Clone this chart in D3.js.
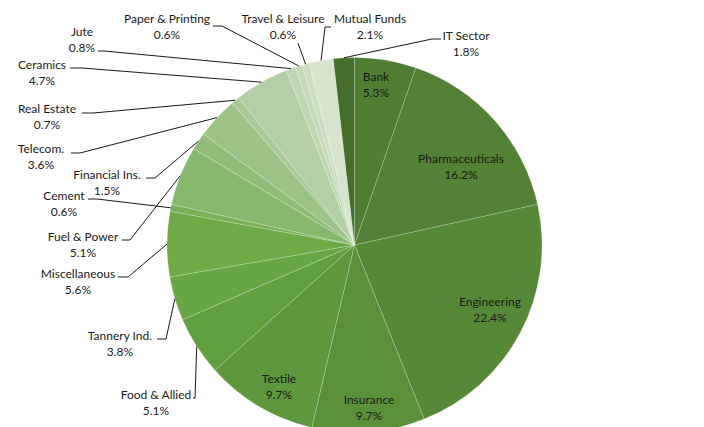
<!DOCTYPE html>
<html><head><meta charset="utf-8">
<script src="https://cdn.jsdelivr.net/npm/d3@7"></script>
<style>
html,body{margin:0;padding:0;background:#fff;}
svg text{font-family:Lato,"Open Sans",sans-serif;font-size:12px;fill:#1a1a1a;}
</style></head>
<body>
<svg id="chart" width="704" height="427"></svg>
<script>
// ---- data ----
const categories = ["Bank","Pharmaceuticals","Engineering","Insurance","Textile","Food & Allied","Tannery Ind.","Miscellaneous","Cement","Fuel & Power","Financial Ins.","Telecom.","Real Estate","Ceramics","Jute","Paper & Printing","Travel & Leisure","Mutual Funds","IT Sector"];
const shares = [5.3,16.2,22.4,9.7,9.7,5.1,3.8,5.6,0.6,5.1,1.5,3.6,0.7,4.7,0.8,0.6,0.6,2.1,1.8];

// ---- styling / layout (not data) ----
const colors = ["#4f7d32","#538135","#568937","#5a903a","#5e973c","#62a03f","#67a642","#6eab46","#79b157","#87b76c","#92bd78","#9dc287","#a9ca97","#b4cfa5","#bfd6b2","#c6dabb","#cbdec1","#d6e4cd","#466e2b"];
// label centre (line 1), and leader start / stub end (null = inside label)
const labelLayout = {
  "Bank":            {x:376,y:77},
  "Pharmaceuticals": {x:461,y:159},
  "Engineering":     {x:490,y:302},
  "Insurance":       {x:369,y:400},
  "Textile":         {x:279,y:379},
  "Food & Allied":   {x:156,y:395, lead:[193,398,195]},
  "Tannery Ind.":    {x:120,y:336, lead:[157,339,166]},
  "Miscellaneous":   {x:78, y:274, lead:[118,277,128]},
  "Cement":          {x:64, y:196, lead:[88,199,97]},
  "Fuel & Power":    {x:83, y:237, lead:[122,240,130]},
  "Financial Ins.":  {x:107,y:175, lead:[146,178,155]},
  "Telecom.":        {x:41, y:149, lead:[71,153,80]},
  "Real Estate":     {x:47, y:109, lead:[82,113,93]},
  "Ceramics":        {x:42, y:65,  lead:[70,68,82]},
  "Jute":            {x:82, y:32,  lead:[98,51,104]},
  "Paper & Printing":{x:167,y:19,  lead:[213,26,222]},
  "Travel & Leisure":{x:283,y:19,  lead:[298,43,298]},
  "Mutual Funds":    {x:370,y:19,  lead:[331,27,325]},
  "IT Sector":       {x:466,y:36,  lead:[441,39,432]}
};

const cx = 354.5, cy = 245, R = 187.5;
const svg = d3.select("#chart");
const g = svg.append("g").attr("transform",`translate(${cx},${cy})`);

const data = categories.map((c,i)=>({name:c, value:shares[i], color:colors[i]}));
const pie = d3.pie().sort(null).value(d=>d.value).startAngle(0).endAngle(2*Math.PI);
const arcs = pie(data);
const arc = d3.arc().innerRadius(0).outerRadius(R);

g.selectAll("path.slice").data(arcs).enter().append("path")
  .attr("class","slice")
  .attr("d",arc)
  .attr("fill",d=>d.data.color)
  .attr("stroke","rgba(255,255,255,0.4)")
  .attr("stroke-width",0.5);

// leader lines
const fmt = d3.format(".1f");
arcs.forEach(a=>{
  const L = labelLayout[a.data.name];
  if(L.lead){
    const mid = (a.startAngle+a.endAngle)/2;
    const ex = cx + R*Math.sin(mid), ey = cy - R*Math.cos(mid);
    const [sx,sy,hx] = L.lead;
    svg.append("polyline")
      .attr("points",`${sx},${sy} ${hx},${sy} ${ex},${ey}`)
      .attr("fill","none").attr("stroke","#1a1a1a").attr("stroke-width",1);
  }
});

// labels
arcs.forEach(a=>{
  const L = labelLayout[a.data.name];
  const t = svg.append("text").attr("text-anchor","middle");
  t.append("tspan").attr("x",L.x).attr("y",L.y).attr("dy","0.35em").text(a.data.name);
  t.append("tspan").attr("x",L.x).attr("y",L.y+16).attr("dy","0.35em").text(fmt(a.data.value)+"%");
});
</script>
</body></html>
